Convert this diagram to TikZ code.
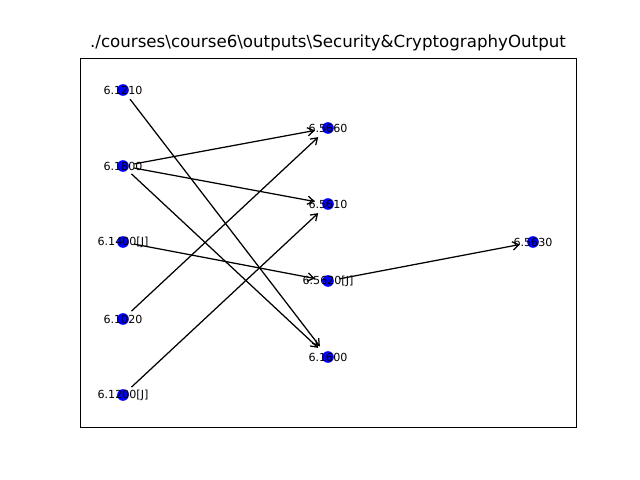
\documentclass[tikz,border=0pt]{standalone}
\usepackage{fontspec}
\setmainfont{DejaVu Sans}
\usetikzlibrary{arrows.meta}
\begin{document}
\begin{tikzpicture}[x=0.72pt,y=-0.72pt,
  dot/.style={circle,fill=blue,inner sep=0pt,minimum size=8.4pt},
  lbl/.style={font=\fontsize{8}{9.6}\selectfont,inner sep=0pt},
  edge/.style={-{Straight Barb[length=4.5pt,width=6pt]},line width=0.9pt,shorten <=3.9pt,shorten >=5.2pt},
  ttl/.style={font=\fontsize{12}{14}\selectfont,inner sep=0pt}]
\useasboundingbox (0,0) rectangle (640,480);
\draw[line width=0.6pt] (80,58) rectangle (576,427);
\node[ttl] (title) at (328,43) {./courses\textbackslash course6\textbackslash outputs\textbackslash Security\&CryptographyOutput};
% dots
\node[dot] (a1210) at (123,90) {};
\node[dot] (a1800) at (123,166) {};
\node[dot] (a1400) at (123,242) {};
\node[dot] (a1020) at (123,319) {};
\node[dot] (a1200) at (123,395) {};
\node[dot] (b5660) at (328,128) {};
\node[dot] (b5610) at (328,204) {};
\node[dot] (b5620) at (328,281) {};
\node[dot] (b1600) at (328,357) {};
\node[dot] (c5630) at (533,242) {};
% edges
\draw[edge] (a1210) -- (b1600);
\draw[edge] (a1800) -- (b5660);
\draw[edge] (a1800) -- (b5610);
\draw[edge] (a1800) -- (b1600);
\draw[edge] (a1400) -- (b5620);
\draw[edge] (a1020) -- (b5660);
\draw[edge] (a1200) -- (b5610);
\draw[edge] (b5620) -- (c5630);
% labels
\node[lbl] (l1210) at (a1210) {6.1210};
\node[lbl] (l1800) at (a1800) {6.1800};
\node[lbl] (l1400) at (a1400) {6.1400[J]};
\node[lbl] (l1020) at (a1020) {6.1020};
\node[lbl] (l1200) at (a1200) {6.1200[J]};
\node[lbl] (l5660) at (b5660) {6.5660};
\node[lbl] (l5610) at (b5610) {6.5610};
\node[lbl] (l5620) at (b5620) {6.5620[J]};
\node[lbl] (l1600) at (b1600) {6.1600};
\node[lbl] (l5630) at (c5630) {6.5630};
\end{tikzpicture}
\end{document}
